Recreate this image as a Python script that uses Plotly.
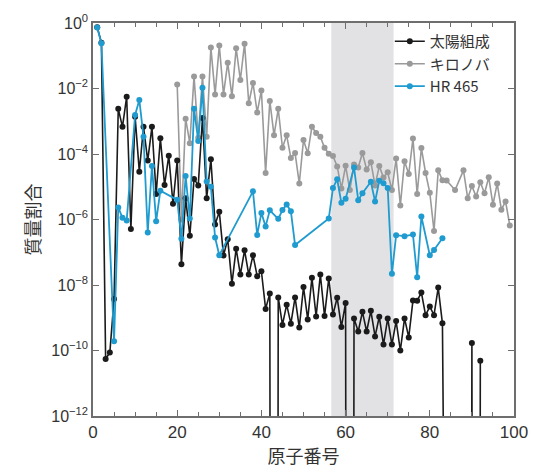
import plotly.graph_objects as go

# ---- data (log10 of mass fraction) ----
# 太陽組成 (solar composition), Z = 1..92; None = element absent (drawn down to zero)
solar_z = list(range(1, 93))
solar_log = [
    -0.13, -0.60, -10.26, -10.06, -8.43, -2.62, -3.17, -2.25, -6.29, -2.86,   # 1-10
    -4.54, -3.17, -4.20, -3.17, -5.22, -3.52, -4.95, -4.05, -5.52, -4.20,     # 11-20
    -7.37, -5.35, -6.50, -4.76, -4.96, -2.90, -5.35, -4.16, -6.15, -5.76,     # 21-30
    -7.10, -6.60, -7.96, -6.89, -7.68, -6.94, -7.68, -7.09, -7.73, -7.58,     # 31-40
    -8.73, -8.26, None, -8.38, -9.22, -8.60, -9.18, -8.38, -9.30, -8.06,      # 41-50
    -9.05, -7.78, -8.96, -7.68, -8.95, -7.80, -8.90, -8.39, -9.28, -8.55,     # 51-60
    None, -9.02, -9.42, -8.82, -9.42, -8.79, -9.57, -8.97, -9.82, -9.02,      # 61-70
    -9.82, -9.10, -10.00, -9.02, -9.60, -8.47, -8.48, -8.23, -8.92, -8.66,    # 71-80
    -8.92, -8.08, -9.17, None, None, None, None, None, None, -9.77,           # 81-90
    None, -10.31,                                                              # 91-92
]

# キロノバ (kilonova), Z = 20..99; None = no point (line connected)
kilonova_z = list(range(20, 100))
kilonova_log = [
    -1.88, -6.00, -2.92, -3.67, -1.63, -3.50, -1.63, -3.47, -0.75, -2.18,     # 20-29
    -0.69, -2.18, -1.21, -2.24, -0.77, -1.74, -0.63, -2.45, -1.83, -2.73,     # 30-39
    -2.06, -4.58, -2.38, -3.43, -2.62, -3.81, -3.43, -4.12, -3.97, -4.90,     # 40-49
    -3.57, -3.98, -3.17, -3.36, -3.47, -3.81, -3.99, -4.06, -4.38, -5.05,     # 50-59
    -4.36, -5.10, -4.32, -4.41, -3.97, -4.47, -4.25, -4.96, -4.37, -4.72,     # 60-69
    -4.56, -5.10, -4.14, -5.57, -4.22, -4.61, -3.53, -5.22, -3.82, -4.58,     # 70-79
    -5.18, -6.35, -4.50, -4.80, -4.81, None, -5.10, None, -4.50, -5.35,       # 80-89
    -4.98, -5.30, -4.86, -5.20, -4.71, -5.55, -4.90, -5.70, -5.45, -6.18,     # 90-99
]

# HR 465
hr465_z = [1, 2, 5, 6, 7, 8, 10, 11, 12, 13, 14, 15, 16, 20, 21, 22, 23, 24, 25, 26,
           27, 28, 29, 30, 38, 39, 40, 41, 42, 44, 45, 46, 47, 48, 56, 57, 58, 59, 60,
           62, 63, 64, 66, 67, 68, 69, 70, 71, 72, 74, 76, 77, 78, 80, 81, 83]
hr465_log = [-0.14, -0.62, -9.72, -5.63, -5.95, -6.03, -2.81, -2.35, -3.47, -6.40,
             -4.37, -6.05, -5.12, -5.40, -6.59, -4.67, -5.97, -2.62, -3.60, -1.98,
             -4.84, -5.00, -6.55, -7.09, -5.14, -6.47, -5.80, -6.21, -5.72, -5.98,
             -5.71, -5.54, -5.75, -6.78, -5.97, -5.04, -4.77, -5.49, -5.37,
             -4.41, -5.41, -5.20, -4.85, -5.45, -4.82, -4.89, -5.04, -7.66, -6.48,
             -6.51, -6.46, -7.76, -5.91, -7.09, -6.93, -6.57]

shade_range = [56.6, 71.4]          # lanthanide band
y_tick_exps = [0, -2, -4, -6, -8, -10, -12]
x_ticks = [0, 20, 40, 60, 80, 100]

names = ["太陽組成", "キロノバ", "HR 465"]
colors = ["#1b1b1b", "#9a9a9a", "#1f9bcf"]

# ---- build ----
ZERO = 1e-100  # absent element: drawn as a drop to zero (off the bottom of the axis)
solar_y = [10 ** v if v is not None else ZERO for v in solar_log]
kilonova_y = [10 ** v if v is not None else None for v in kilonova_log]
hr465_y = [10 ** v for v in hr465_log]

fig = go.Figure()
fig.add_trace(go.Scatter(x=kilonova_z, y=kilonova_y, name=names[1], mode="lines+markers",
                         connectgaps=True, legendrank=2,
                         line=dict(color=colors[1], width=1.6),
                         marker=dict(color=colors[1], size=6)))
fig.add_trace(go.Scatter(x=solar_z, y=solar_y, name=names[0], mode="lines+markers",
                         legendrank=1,
                         line=dict(color=colors[0], width=1.6),
                         marker=dict(color=colors[0], size=6)))
fig.add_trace(go.Scatter(x=hr465_z, y=hr465_y, name=names[2], mode="lines+markers",
                         legendrank=3,
                         line=dict(color=colors[2], width=1.8),
                         marker=dict(color=colors[2], size=6)))

fig.add_shape(type="rect", xref="x", yref="paper", x0=shade_range[0], x1=shade_range[1],
              y0=0, y1=1, fillcolor="#e2e2e5", line=dict(width=0), layer="below")

axis_color = "#6e6e6e"
fig.update_layout(
    width=540, height=471,
    margin=dict(l=93, r=24, t=18, b=49),
    paper_bgcolor="white", plot_bgcolor="white",
    font=dict(family="Liberation Sans, Arial, sans-serif", color="#333333", size=16),
    showlegend=True,
    legend=dict(x=0.705, y=0.995, xanchor="left", yanchor="top",
                bgcolor="rgba(0,0,0,0)", borderwidth=0,
                font=dict(family="Noto Sans CJK JP, Liberation Sans, sans-serif",
                          size=15, color="#333333"),
                tracegroupgap=0, itemwidth=30),
)
fig.update_xaxes(
    range=[0, 100], tickvals=x_ticks, ticktext=[str(v) for v in x_ticks],
    ticks="inside", ticklen=6, tickwidth=1.2, tickcolor=axis_color,
    minor=dict(dtick=5, ticks="inside", ticklen=4, tickwidth=1.2, tickcolor=axis_color),
    showline=True, linecolor=axis_color, linewidth=1.5, mirror="ticks",
    showgrid=False, zeroline=False,
    tickfont=dict(size=17, color="#333333"),
    title=dict(text="原子番号", standoff=4,
               font=dict(family="Noto Sans CJK JP, sans-serif", size=18, color="#333333")),
)
fig.update_yaxes(
    type="log", range=[-12, 0],
    tickvals=[10 ** e for e in y_tick_exps],
    ticktext=["10<sup>%s</sup>" % (str(e).replace("-", "\u2212")) for e in y_tick_exps],
    ticks="inside", ticklen=6, tickwidth=1.2, tickcolor=axis_color,
    showline=True, linecolor=axis_color, linewidth=1.5, mirror="ticks",
    showgrid=False, zeroline=False,
    tickfont=dict(size=16, color="#333333"),
    title=dict(text="質量割合", standoff=6,
               font=dict(family="Noto Sans CJK JP, sans-serif", size=18, color="#333333")),
)

fig.write_html("out.html")
